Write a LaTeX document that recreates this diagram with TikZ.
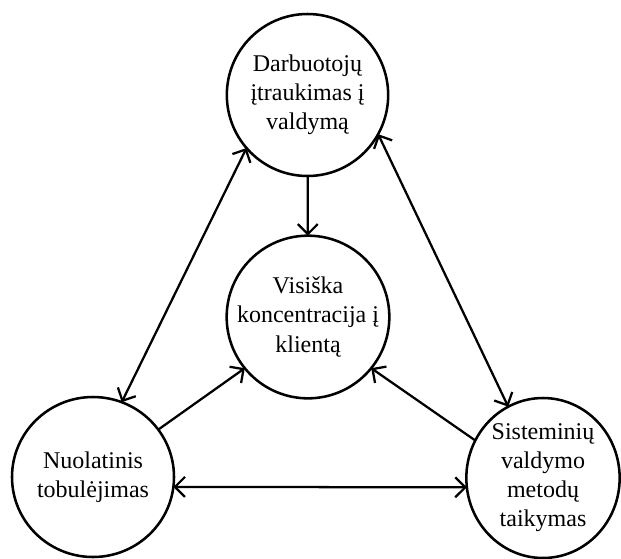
\documentclass[tikz,border=0pt]{standalone}
\usepackage{fontspec}
\setmainfont{Liberation Serif}
\usetikzlibrary{arrows.meta,shapes.geometric}
\begin{document}
\begin{tikzpicture}[x=0.75pt,y=-0.75pt,
  bubble/.style={draw=black,line width=1.9pt,ellipse,inner xsep=-25pt,inner ysep=-20pt,outer sep=0pt,
    align=center,font=\fontsize{18}{21.8}\selectfont},
  conn/.style={line width=1.7pt,draw=black},
  tip/.tip={Straight Barb[length=7.5pt,width=15pt,line width=1.7pt]}]
\useasboundingbox (0,0) rectangle (621,558);
\node[bubble,minimum width=121pt,minimum height=121.5pt] (top) at (307.5,95) {Darbuotojų\\įtraukimas į\\valdymą};
\node[bubble,minimum width=122pt,minimum height=122pt] (mid) at (308,317) {Visiška\\koncentracija į\\klientą};
\node[bubble,minimum width=121.5pt,minimum height=120pt] (bl) at (93,477) {Nuolatinis\\tobulėjimas};
\node[bubble,minimum width=115pt,minimum height=120pt] (br) at (543,478) {Sisteminių\\valdymo\\metodų\\taikymas};
\draw[conn,-tip] (top) -- (mid);
\draw[conn,tip-tip] (top.221) -- (bl.69);
\draw[conn,tip-tip] (top.331) -- (br.116);
\draw[conn,-tip] (bl.36) -- (mid.219);
\draw[conn,-tip] (br.151) -- (mid.321);
\draw[conn,tip-tip] (bl.-7) -- (br.187);
\end{tikzpicture}
\end{document}
